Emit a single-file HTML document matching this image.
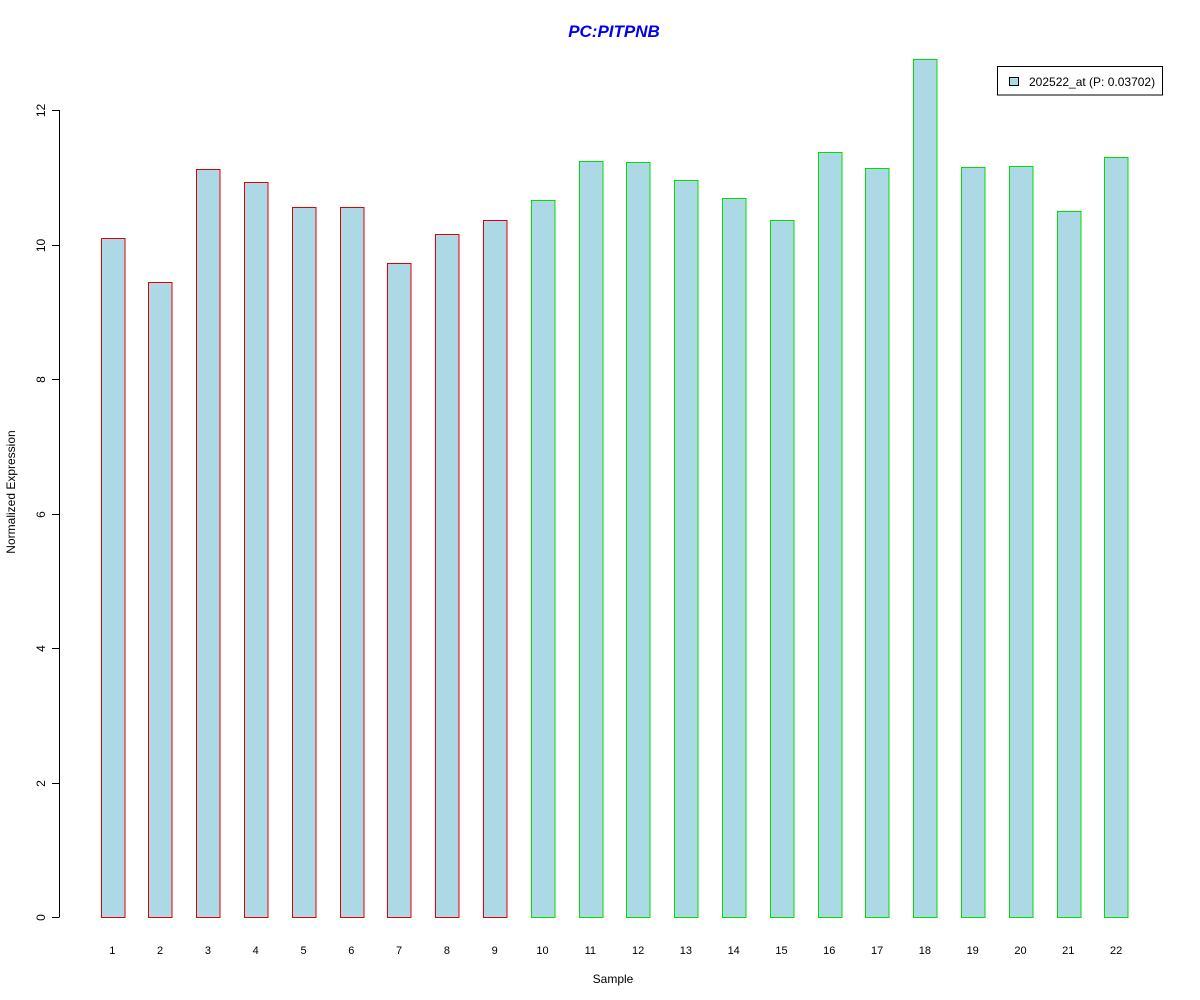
<!DOCTYPE html>
<html><head><meta charset="utf-8"><style>
body{margin:0;background:#fff;}
svg{display:block;font-family:"Liberation Sans",Arial,sans-serif;}
</style></head><body>
<svg id="chart" width="1200" height="1000" viewBox="0 0 1200 1000">
<text x="614" y="37" text-anchor="middle" font-size="17" font-weight="bold" font-style="italic" fill="#0000ee">PC:PITPNB</text>
<g id="yaxis"></g>
<g id="bars"></g>
<g id="xlabels"></g>
<text x="613" y="983" text-anchor="middle" font-size="12">Sample</text>
<text transform="translate(15,492) rotate(-90)" text-anchor="middle" font-size="12">Normalized Expression</text>
<g>
<rect x="997.5" y="66.5" width="165" height="28.5" fill="#fff" stroke="#000"/>
<rect x="1009.5" y="77.5" width="9" height="8" fill="#add8e6" stroke="#000"/>
<text x="1029" y="86" font-size="12">202522_at (P: 0.03702)</text>
</g>
</svg>
<script>
const categories = ["1","2","3","4","5","6","7","8","9","10","11","12","13","14","15","16","17","18","19","20","21","22"];
const values = [10.10,9.44,11.12,10.93,10.56,10.56,9.72,10.16,10.36,10.66,11.24,11.23,10.96,10.69,10.36,11.38,11.14,12.76,11.15,11.17,10.50,11.30];
const groups = ["a","a","a","a","a","a","a","a","a","b","b","b","b","b","b","b","b","b","b","b","b","b"];
const yTicks = [0,2,4,6,8,10,12];

const NS="http://www.w3.org/2000/svg";
const y0=917, pxPerUnit=(917-110)/12;
function yScale(v){return y0 - v*pxPerUnit;}
function xScale(i){return 112.3 + i*47.8;}
const barW=23.5;
function mk(tag,attrs,parent){const e=document.createElementNS(NS,tag);for(const k in attrs)e.setAttribute(k,attrs[k]);parent.appendChild(e);return e;}

const ya=document.getElementById('yaxis');
const axisLine=mk('line',{x1:59.5,x2:59.5,y1:yScale(12),y2:yScale(0),stroke:'#000'},ya);


yTicks.forEach(t=>{
  const yy=Math.round(yScale(t))+0.5;
  const tk=mk('line',{x1:52,x2:59.5,y1:yy,y2:yy,stroke:'#000'},ya);
  
  
  const lb=mk('text',{transform:`translate(45,${yy}) rotate(-90)`,'text-anchor':'middle','font-size':12},ya);
  lb.textContent=t;
  
  
});

const bg=document.getElementById('bars'), xl=document.getElementById('xlabels');
values.forEach((v,i)=>{
  const cx=xScale(i);
  const top=yScale(v);
  const r=mk('rect',{x:Math.round(cx-barW/2)+0.5,y:Math.round(top)+0.5,width:barW,height:Math.round(y0)-Math.round(top),fill:'#add8e6',stroke:groups[i]==='a'?'#e00000':'#00dd00'},bg);
  
  
  const t=mk('text',{x:cx,y:954,'text-anchor':'middle','font-size':11},xl);
  t.textContent=categories[i];
  
  
});
</script>
</body></html>
